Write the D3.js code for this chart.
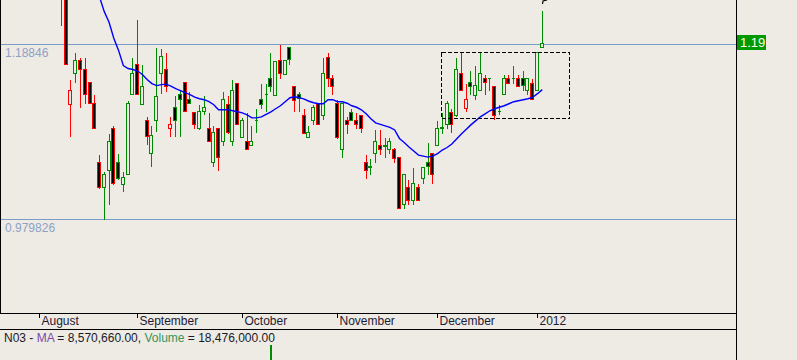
<!DOCTYPE html>
<html>
<head>
<meta charset="utf-8">
<script src="https://cdn.jsdelivr.net/npm/d3@7"></script>
<style>
  body { margin: 0; background: #eeeae4; }
  svg { display: block; font-family: "Liberation Sans", Arial, sans-serif; }
</style>
</head>
<body>
<div id="chart"></div>
<script>
// candles, one per trading day (index 0 = first visible candle)
const openValues = [
  1.2652, 1.2532, 1.1176, 1.1548, 1.1692, 1.1596, 1.1440, 1.1188, 1.0480, 1.0180,
  1.0384, 1.0888, 1.0480, 1.0216, 1.0336, 1.1296, 1.1644, 1.1176, 1.0984, 1.0588,
  1.0984, 1.1548, 1.1596, 1.0888, 1.1140, 1.1296, 1.1440, 1.1236, 1.1080, 1.0888,
  1.1092, 1.0888, 1.0480, 1.0888, 1.0732, 1.1176, 1.0732, 1.1428, 1.0780, 1.0732,
  1.0684, 1.0978, 1.1236, 1.1290, 1.1488, 1.1284, 1.1692, 1.1536, 1.1848, 1.1392,
  1.1296, 1.1044, 1.0780, 1.0984, 1.1188, 1.1044, 1.1728, 1.1488, 1.1188, 1.0636,
  1.0984, 1.1080, 1.0984, 1.1044, 1.0480, 1.0426, 1.0588, 1.0684, 1.0678, 1.0636,
  1.0636, 1.0540, 0.9976, 1.0180, 1.0024, 1.0180, 1.0288, 1.0480, 1.0588, 1.0684,
  1.0882, 1.0936, 1.1080, 1.1044, 1.1548, 1.1128, 1.1440, 1.1284, 1.1344, 1.1488,
  1.1482, 1.1392, 1.1086, 1.1296, 1.1488, 1.1482, 1.1488, 1.1488, 1.1344, 1.1428,
  1.1344, 1.1848
];
const highValues = [
  1.2892, 1.2592, 1.1476, 1.1788, 1.1728, 1.1728, 1.1440, 1.1296, 1.0576, 1.0372,
  1.0828, 1.0924, 1.0588, 1.0372, 1.1224, 1.1728, 1.2184, 1.1644, 1.1032, 1.0924,
  1.1848, 1.1836, 1.1788, 1.1032, 1.1284, 1.1344, 1.1440, 1.1332, 1.1092, 1.1176,
  1.1284, 1.1080, 1.0924, 1.0888, 1.1332, 1.1284, 1.1476, 1.1440, 1.1020, 1.1080,
  1.0924, 1.1128, 1.1428, 1.1428, 1.1788, 1.1680, 1.1884, 1.1692, 1.1848, 1.1392,
  1.1332, 1.1128, 1.0924, 1.1176, 1.1188, 1.1728, 1.1788, 1.1536, 1.1236, 1.1188,
  1.1032, 1.1128, 1.1080, 1.1044, 1.0576, 1.0528, 1.0876, 1.0876, 1.0780, 1.0780,
  1.0660, 1.0540, 1.0336, 1.0276, 1.0420, 1.0228, 1.0432, 1.0720, 1.0588, 1.0984,
  1.1080, 1.1224, 1.1128, 1.1728, 1.1788, 1.1428, 1.1584, 1.1632, 1.1788, 1.1536,
  1.1488, 1.1392, 1.1176, 1.1536, 1.1536, 1.1632, 1.1536, 1.1584, 1.1488, 1.1488,
  1.1788, 1.2292
];
const lowValues = [
  1.2112, 1.1644, 1.0792, 1.1440, 1.1140, 1.1188, 1.1188, 1.0888, 1.0168, 0.9796,
  0.9976, 1.0216, 1.0276, 1.0132, 1.0336, 1.1296, 1.1296, 1.1176, 1.0696, 1.0432,
  1.0852, 1.1308, 1.1332, 1.0792, 1.0792, 1.0792, 1.1092, 1.1188, 1.0888, 1.0876,
  1.1056, 1.0732, 1.0432, 1.0384, 1.0684, 1.0828, 1.0684, 1.0936, 1.0780, 1.0636,
  1.0684, 1.0840, 1.1128, 1.1092, 1.1332, 1.1284, 1.1488, 1.1536, 1.1644, 1.1092,
  1.1092, 1.0828, 1.0780, 1.0936, 1.0936, 1.0996, 1.1392, 1.1296, 1.0768, 1.0540,
  1.0828, 1.0984, 1.0888, 1.0840, 1.0288, 1.0336, 1.0480, 1.0576, 1.0540, 1.0588,
  1.0480, 0.9928, 0.9928, 0.9976, 0.9976, 1.0024, 1.0228, 1.0336, 1.0228, 1.0684,
  1.0828, 1.0888, 1.0840, 1.1032, 1.1344, 1.1092, 1.1296, 1.1236, 1.1344, 1.1296,
  1.1344, 1.0996, 1.1056, 1.1296, 1.1428, 1.1428, 1.1392, 1.1344, 1.1296, 1.1236,
  1.1344, 1.1848
];
const closeValues = [
  1.2472, 1.1644, 1.1344, 1.1692, 1.1596, 1.1296, 1.1188, 1.0888, 1.0180, 1.0336,
  1.0732, 1.0228, 1.0288, 1.0300, 1.1188, 1.1548, 1.1296, 1.1392, 1.0792, 1.0804,
  1.1272, 1.1740, 1.1392, 1.0936, 1.0984, 1.1236, 1.1092, 1.1188, 1.0936, 1.1092,
  1.1140, 1.0732, 1.0840, 1.0540, 1.1236, 1.0840, 1.1344, 1.0936, 1.0984, 1.0636,
  1.0732, 1.0984, 1.1176, 1.1296, 1.1392, 1.1680, 1.1548, 1.1692, 1.1704, 1.1224,
  1.1248, 1.0828, 1.0840, 1.1140, 1.0936, 1.1548, 1.1488, 1.1392, 1.0780, 1.1188,
  1.0936, 1.0984, 1.0936, 1.0888, 1.0384, 1.0432, 1.0732, 1.0636, 1.0684, 1.0732,
  1.0528, 0.9928, 1.0336, 1.0024, 1.0228, 1.0024, 1.0420, 1.0432, 1.0336, 1.0888,
  1.0894, 1.1188, 1.0936, 1.1596, 1.1344, 1.1236, 1.1392, 1.1398, 1.1548, 1.1440,
  1.1488, 1.1044, 1.1092, 1.1488, 1.1428, 1.1488, 1.1392, 1.1398, 1.1488, 1.1236,
  1.1788, 1.1896
];

// moving average, starting at candle maStart
const maStart = 7;
const maValues = [
  1.2628, 1.2448, 1.2274, 1.2148, 1.1956, 1.1812, 1.1632, 1.1596, 1.1584, 1.1566,
  1.1524, 1.1464, 1.1416, 1.1392, 1.1404, 1.1410, 1.1386, 1.1356, 1.1332, 1.1308,
  1.1284, 1.1254, 1.1236, 1.1224, 1.1200, 1.1164, 1.1104, 1.1104, 1.1104, 1.1092,
  1.1080, 1.1068, 1.1044, 1.1008, 1.1008, 1.1020, 1.1050, 1.1080, 1.1116, 1.1152,
  1.1200, 1.1248, 1.1260, 1.1248, 1.1230, 1.1206, 1.1188, 1.1176, 1.1176, 1.1224,
  1.1224, 1.1200, 1.1200, 1.1182, 1.1152, 1.1134, 1.1104, 1.1056, 1.0996, 1.0948,
  1.0930, 1.0912, 1.0894, 1.0864, 1.0762, 1.0714, 1.0660, 1.0612, 1.0564, 1.0552,
  1.0540, 1.0552, 1.0582, 1.0624, 1.0654, 1.0696, 1.0756, 1.0816, 1.0870, 1.0924,
  1.0972, 1.1020, 1.1056, 1.1092, 1.1116, 1.1134, 1.1152, 1.1176, 1.1200, 1.1212,
  1.1224, 1.1236, 1.1254, 1.1296, 1.1344
];

// month labels and the candle index where each month begins
const monthLabels = ['August', 'September', 'October', 'November', 'December', '2012'];
const monthIndex = [-4.6, 16, 38, 58, 79, 100];

// horizontal level lines
const levelValues = [1.18846, 0.979826];
const levelLabels = ['1.18846', '0.979826'];

// dashed selection box: candle index range and price range
const boxIndex = [79.8, 106.7];
const boxPrice = [1.1006, 1.1789];

// volume panel (only the tall bar reaches into the visible strip)
const volumeIndex = [44, 101];
const volumeValues = [80000000, 18476000];
const legendMA = '8,570,660.00';
const legendVolume = '18,476,000.00';

const width = 797;
const height = 360;
const plotRight = 736;
const plotBottom = 313;
const axisBottom = 329;

const green = '#008c00';
const red = '#ff0000';
const bg = '#eeeae4';

const candles = openValues.map((o, i) => ({
  i,
  open: o,
  high: highValues[i],
  low: lowValues[i],
  close: closeValues[i],
  prev: i > 0 ? closeValues[i - 1] : o,
}));

const svg = d3.select('#chart')
  .append('svg')
  .attr('width', width)
  .attr('height', height);

svg.append('rect').attr('width', width).attr('height', height).attr('fill', bg);

const xScale = d3.scaleLinear().domain([-12.8, 141.8]).range([0, plotRight]);
const yScale = d3.scaleLinear().domain([0.979826, 1.18846]).range([219.3, 44.3]);
const vScale = d3.scaleLinear().domain([0, 80000000]).range([400, 345]);

const px = (i) => Math.round(xScale(i));
const py = (v) => Math.round(yScale(v)) + 0.5;

svg.append('defs').append('clipPath').attr('id', 'plot-clip')
  .append('rect').attr('x', 1).attr('y', 0).attr('width', plotRight - 1).attr('height', plotBottom);

// level lines
const levels = svg.append('g').attr('class', 'levels');
levelValues.forEach((v, k) => {
  levels.append('line')
    .attr('x1', 1).attr('x2', plotRight)
    .attr('y1', py(v)).attr('y2', py(v))
    .attr('stroke', '#7b9bc9')
    .attr('stroke-width', 1);
  levels.append('text')
    .attr('x', 5)
    .attr('y', py(v) + 12)
    .attr('fill', '#8da1c7')
    .attr('font-size', 12)
    .text(levelLabels[k]);
});

const plot = svg.append('g').attr('clip-path', 'url(#plot-clip)');

// candles
const candleG = plot.append('g').attr('class', 'candles').attr('shape-rendering', 'crispEdges');
candles.forEach((d) => {
  const cx = px(d.i);
  const col = d.close >= d.prev ? green : red;
  const filled = d.close < d.open;
  candleG.append('line')
    .attr('x1', cx + 0.5).attr('x2', cx + 0.5)
    .attr('y1', py(d.high)).attr('y2', py(d.low))
    .attr('stroke', col);
  const yTop = py(Math.max(d.open, d.close));
  const yBot = py(Math.min(d.open, d.close));
  candleG.append('path')
    .attr('d', `M${cx - 1.5},${yTop}H${cx + 1.5}V${yBot}H${cx - 1.5}Z`)
    .attr('fill', filled ? '#000' : bg)
    .attr('stroke', col)
    .attr('stroke-width', 1);
});

// moving average
const ma = maValues.map((v, k) => ({ i: maStart + k, v }));
plot.append('path')
  .datum(ma)
  .attr('fill', 'none')
  .attr('stroke', '#0000ff')
  .attr('stroke-width', 1.4)
  .attr('d', d3.line().x((d) => xScale(d.i) + 0.5).y((d) => yScale(d.v)));

// dashed box
plot.append('rect')
  .attr('x', px(boxIndex[0]) + 0.5)
  .attr('y', py(boxPrice[1]))
  .attr('width', px(boxIndex[1]) - px(boxIndex[0]))
  .attr('height', py(boxPrice[0]) - py(boxPrice[1]))
  .attr('fill', 'none')
  .attr('stroke', '#000')
  .attr('stroke-dasharray', '4,2')
  .attr('shape-rendering', 'crispEdges');

// small marker above the last candle
const last = candles[candles.length - 1];
plot.append('path')
  .attr('d', `M${px(last.i) + 0.5},4 L${px(last.i) + 1},1 L${px(last.i) + 5},0`)
  .attr('fill', 'none')
  .attr('stroke', '#000')
  .attr('stroke-width', 1.2);

// frame lines
const frame = svg.append('g').attr('stroke', '#000').attr('shape-rendering', 'crispEdges');
frame.append('line').attr('x1', plotRight + 0.5).attr('x2', plotRight + 0.5).attr('y1', 0).attr('y2', height);
frame.append('line').attr('x1', 0.5).attr('x2', 0.5).attr('y1', 0).attr('y2', plotBottom);
frame.append('line').attr('x1', 0).attr('x2', plotRight).attr('y1', plotBottom + 0.5).attr('y2', plotBottom + 0.5);
frame.append('line').attr('x1', 0).attr('x2', plotRight).attr('y1', axisBottom + 0.5).attr('y2', axisBottom + 0.5);

// month axis
const axisG = svg.append('g').attr('class', 'x-axis');
monthLabels.forEach((label, k) => {
  const x = px(monthIndex[k]) + 0.5;
  axisG.append('line')
    .attr('x1', x).attr('x2', x)
    .attr('y1', plotBottom + 1).attr('y2', plotBottom + 5)
    .attr('stroke', '#000')
    .attr('shape-rendering', 'crispEdges');
  axisG.append('text')
    .attr('x', x + 2)
    .attr('y', 325)
    .attr('font-size', 12)
    .attr('fill', '#221a33')
    .text(label);
});

// last price label on the right axis
const lastY = yScale(last.close);
svg.append('rect')
  .attr('x', plotRight + 1).attr('y', Math.round(lastY) - 8)
  .attr('width', 29).attr('height', 15)
  .attr('fill', '#009900');
svg.append('text')
  .attr('x', plotRight + 4)
  .attr('y', Math.round(lastY) + 4)
  .attr('font-size', 13)
  .attr('fill', '#ffffee')
  .text(d3.format('.2f')(last.close));

// volume panel
svg.append('defs').append('clipPath').attr('id', 'vol-clip')
  .append('rect').attr('x', 0).attr('y', axisBottom + 1).attr('width', plotRight).attr('height', height - axisBottom);
svg.append('g').attr('clip-path', 'url(#vol-clip)')
  .selectAll('rect')
  .data(volumeIndex.map((i, k) => ({ i, v: volumeValues[k] })))
  .join('rect')
  .attr('x', (d) => px(d.i))
  .attr('y', (d) => vScale(d.v))
  .attr('width', 2)
  .attr('height', (d) => vScale(0) - vScale(d.v))
  .attr('fill', green);

const legend = svg.append('text')
  .attr('x', 4)
  .attr('y', 342)
  .attr('font-size', 12)
  .attr('fill', '#1a1a2a');
legend.append('tspan').text('N03 - ');
legend.append('tspan').attr('fill', '#7a4aa8').text('MA');
legend.append('tspan').text(` = ${legendMA}, `);
legend.append('tspan').attr('fill', '#35955a').text('Volume');
legend.append('tspan').text(` = ${legendVolume}`);
</script>
</body>
</html>
